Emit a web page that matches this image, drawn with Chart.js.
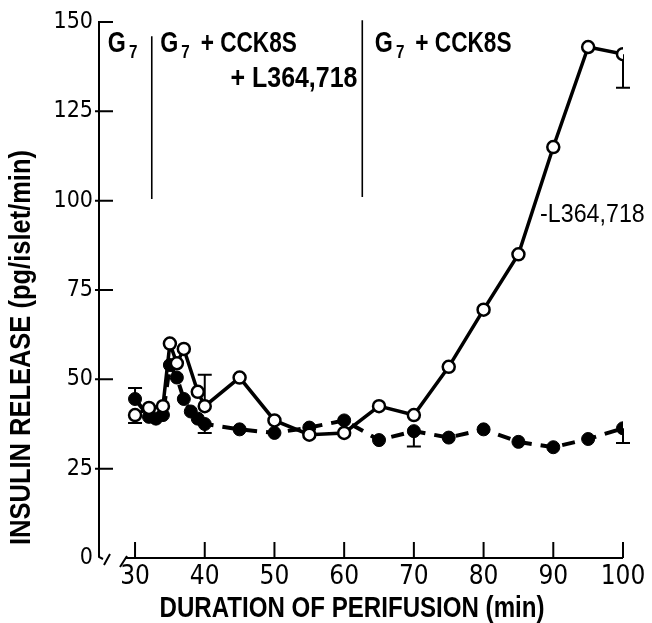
<!DOCTYPE html>
<html>
<head>
<meta charset="utf-8">
<script src="https://cdn.jsdelivr.net/npm/chart.js@4.4.0/dist/chart.umd.min.js"></script>
<style>
  html, body { margin: 0; padding: 0; background: #fff; }
  #wrap { width: 652px; height: 623px; }
</style>
</head>
<body>
<div id="wrap"><canvas id="chart" width="652" height="623"></canvas></div>
<script>
// open circles: G7 + CCK8S, L364,718 removed at 62 min
const minutesOpen = [30, 32, 34, 35, 36, 37, 39, 40, 45, 50, 55, 60, 65, 70, 75, 80, 85, 90, 95, 100];
const insulinOpen = [40, 42, 42.5, 60, 54.5, 58.5, 46.5, 42.5, 50.5, 38.5, 34.5, 35, 42.5, 40, 53.5, 69.5, 85, 115, 143, 141];

// filled circles: L364,718 kept in
const minutesFilled = [30, 32, 33, 34, 35, 36, 37, 38, 39, 40, 45, 50, 55, 60, 65, 70, 75, 80, 85, 90, 95, 100];
const insulinFilled = [44.5, 39.5, 39, 40, 54, 50.5, 44.5, 41, 39, 37.5, 36, 35, 36.5, 38.5, 33, 35.5, 33.7, 36, 32.5, 31, 33.3, 36.3];

// one-sided error bars: minute and the value where the bar ends
const errOpenMinutes = [30, 40, 100];
const errOpenEnds = [37.8, 51.3, 131.6];
const errFilledMinutes = [30, 40, 70, 100];
const errFilledEnds = [47.6, 35, 31.2, 32.2];

const xTicks = [30, 40, 50, 60, 70, 80, 90, 100];
const yTicks = [0, 25, 50, 75, 100, 125, 150];

// phase changes (min)
const phaseBounds = [32.4, 62.6];

const xTitle = 'DURATION OF PERIFUSION (min)';
const yTitle = 'INSULIN RELEASE (pg/islet/min)';

const FONT = "'Liberation Sans Narrow', 'DejaVu Sans Condensed', 'Liberation Sans', sans-serif";
const WIDE = "'Liberation Sans', 'DejaVu Sans', sans-serif";

// text squeezed sideways, like the lettering in the paper
function narrowText(ctx, text, px, py, font, squeeze, align) {
  ctx.save();
  ctx.font = font;
  ctx.translate(px, py);
  ctx.scale(squeeze, 1);
  ctx.textAlign = align || 'left';
  ctx.fillText(text, 0, 0);
  const w = ctx.measureText(text).width * squeeze;
  ctx.restore();
  return w;
}

const paperPlugin = {
  id: 'paper',
  beforeDatasetsDraw(chart) {
    const { ctx, scales: { x, y } } = chart;
    const x0 = x.left;
    const y0 = y.getPixelForValue(0);
    ctx.save();
    ctx.strokeStyle = '#000';
    ctx.lineCap = 'butt';

    // y axis with break at the bottom
    ctx.lineWidth = 2;
    ctx.beginPath();
    ctx.moveTo(x0 + 14, y.getPixelForValue(150));
    ctx.lineTo(x0, y.getPixelForValue(150));
    ctx.lineTo(x0, y0 - 1);
    ctx.lineTo(x0 + 4, y0 + 1);
    ctx.moveTo(x0 + 5, y0 + 7);
    ctx.lineTo(x0 + 11, y0 - 4);
    ctx.moveTo(x0 + 21, y0 + 9);
    ctx.lineTo(x0 + 28, y0 - 2);
    ctx.moveTo(x0 + 26, y0);
    ctx.lineTo(x.right, y0);
    ctx.stroke();

    // inward ticks
    ctx.beginPath();
    yTicks.slice(1, -1).forEach(v => {
      const py = y.getPixelForValue(v);
      ctx.moveTo(x0 - 4, py);
      ctx.lineTo(x0 + 14, py);
    });
    xTicks.forEach(v => {
      const px = x.getPixelForValue(v);
      ctx.moveTo(px, y0);
      ctx.lineTo(px, y0 - 16);
    });
    ctx.stroke();

    // phase boundaries
    ctx.lineWidth = 1.6;
    ctx.beginPath();
    ctx.moveTo(x.getPixelForValue(phaseBounds[0]), y.getPixelForValue(146));
    ctx.lineTo(x.getPixelForValue(phaseBounds[0]), y.getPixelForValue(100.5));
    ctx.moveTo(x.getPixelForValue(phaseBounds[1]), y.getPixelForValue(150.5));
    ctx.lineTo(x.getPixelForValue(phaseBounds[1]), y.getPixelForValue(101));
    ctx.stroke();

    // error bars
    ctx.lineWidth = 2;
    const bar = (mins, ends, vals, valMins) => {
      mins.forEach((m, i) => {
        const px = x.getPixelForValue(m);
        const from = y.getPixelForValue(vals[valMins.indexOf(m)]);
        const to = y.getPixelForValue(ends[i]);
        ctx.beginPath();
        ctx.moveTo(px, from);
        ctx.lineTo(px, to);
        ctx.moveTo(px - 7, to);
        ctx.lineTo(px + 7, to);
        ctx.stroke();
      });
    };
    bar(errOpenMinutes, errOpenEnds, insulinOpen, minutesOpen);
    bar(errFilledMinutes, errFilledEnds, insulinFilled, minutesFilled);

    // phase labels
    ctx.fillStyle = '#000';
    ctx.textBaseline = 'alphabetic';
    const big = 'bold 29px ' + WIDE;
    const sub = 'bold 19px ' + WIDE;
    const gLabel = (px, py, rest) => {
      let w = narrowText(ctx, 'G', px, py, big, 0.8);
      w += narrowText(ctx, '7', px + w + 3, py + 6, sub, 0.8) + 3;
      if (rest) narrowText(ctx, rest, px + w + 11, py, big, 0.78);
    };
    const top = y.getPixelForValue(150) + 30;
    gLabel(x.getPixelForValue(26.1), top, '');
    gLabel(x.getPixelForValue(33.6), top, '+ CCK8S');
    gLabel(x.getPixelForValue(64.4), top, '+ CCK8S');
    narrowText(ctx, '+ L364,718', x.getPixelForValue(61.9), top + 35, big, 0.86, 'right');

    ctx.textBaseline = 'middle';
    narrowText(ctx, '-L364,718', x.getPixelForValue(88.1), y.getPixelForValue(96), '25px ' + WIDE, 0.93);

    // axis titles
    ctx.font = 'bold 29px ' + WIDE;
    const xs = 385 / ctx.measureText(xTitle).width;
    narrowText(ctx, xTitle, (x.left + x.right) / 2 - 9, chart.height - 14, 'bold 29px ' + WIDE, xs, 'center');
    const ys = 395 / ctx.measureText(yTitle).width;
    ctx.save();
    ctx.translate(22, y0 - 13);
    ctx.rotate(-Math.PI / 2);
    narrowText(ctx, yTitle, 0, 0, 'bold 29px ' + WIDE, ys, 'left');
    ctx.restore();
    ctx.restore();
  }
};

new Chart(document.getElementById('chart'), {
  type: 'line',
  data: {
    datasets: [
      {
        label: '-L364,718',
        data: minutesOpen.map((m, i) => ({ x: m, y: insulinOpen[i] })),
        borderColor: '#000',
        borderWidth: 3.5,
        pointRadius: 6,
        pointBackgroundColor: '#fff',
        pointBorderColor: '#000',
        pointBorderWidth: 2.5,
        tension: 0
      },
      {
        label: '+L364,718',
        data: minutesFilled.map((m, i) => ({ x: m, y: insulinFilled[i] })),
        borderColor: '#000',
        borderWidth: 4,
        borderDash: [13, 9],
        pointRadius: 6.5,
        pointBackgroundColor: '#000',
        pointBorderColor: '#000',
        pointBorderWidth: 1,
        tension: 0
      }
    ]
  },
  options: {
    responsive: false,
    animation: false,
    layout: { padding: { top: 22, right: 29, bottom: 0, left: 0 } },
    plugins: { legend: { display: false }, tooltip: { enabled: false } },
    scales: {
      x: {
        type: 'linear',
        min: 24.83,
        max: 100,
        afterBuildTicks: s => { s.ticks = xTicks.map(v => ({ value: v })); },
        afterFit: s => { s.height = 65; },
        grid: { display: false, drawTicks: false },
        border: { display: false },
        ticks: { padding: 4, color: '#000', maxRotation: 0, autoSkip: false, font: { family: FONT, size: 26 } },
        title: { display: false, text: xTitle }
      },
      y: {
        min: 0,
        max: 150,
        afterBuildTicks: s => { s.ticks = yTicks.map(v => ({ value: v })); },
        afterFit: s => { s.width = 99; },
        grid: { display: false, drawTicks: false },
        border: { display: false },
        ticks: { padding: 6, color: '#000', font: { family: FONT, size: 23 } },
        title: { display: false, text: yTitle }
      }
    }
  },
  plugins: [paperPlugin]
});
</script>
</body>
</html>
